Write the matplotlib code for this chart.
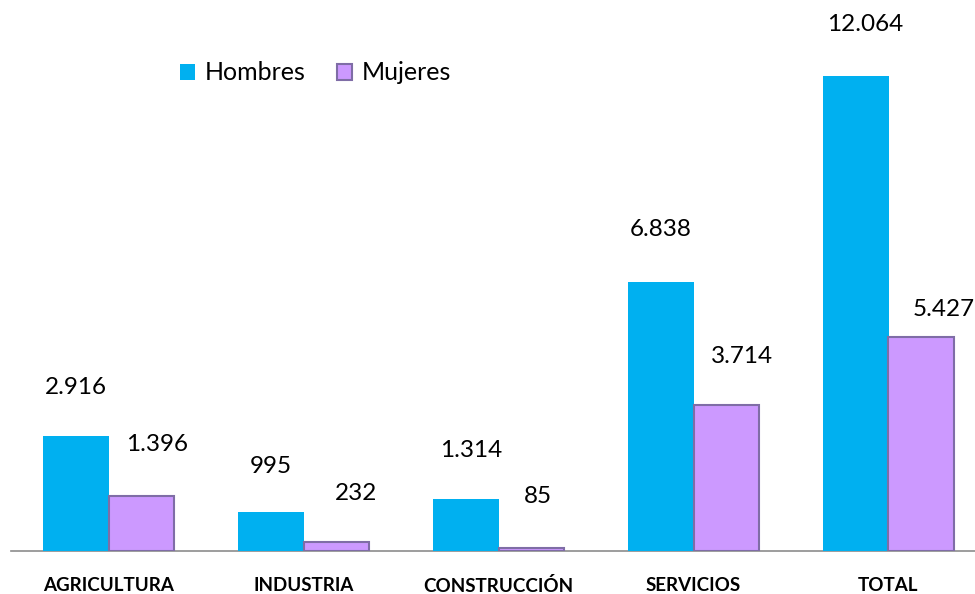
import numpy as np
import matplotlib
matplotlib.use("Agg")
import matplotlib.pyplot as plt

plt.rcParams["font.family"] = ["Lato", "DejaVu Sans"]

# Data
categorias = ["AGRICULTURA", "INDUSTRIA", "CONSTRUCCIÓN", "SERVICIOS", "TOTAL"]
hombres = [2916, 995, 1314, 6838, 12064]
mujeres = [1396, 232, 85, 3714, 5427]
etiquetas_h = ["2.916", "995", "1.314", "6.838", "12.064"]
etiquetas_m = ["1.396", "232", "85", "3.714", "5.427"]

# label offsets in points (style only)
dx_h = [0, 0, 4, 0, 7]
dy_h = [35, 33, 35, 38, 37]
dx_m = [11, 14, 5, 11, 16]
dy_m = [37, 35, 37, 35, 20]

fig = plt.figure(figsize=(9.75, 5.94), dpi=100)
ax = fig.add_axes([11 / 975, 43 / 594, 975 / 975, 551 / 594])

barWidth = 0.338
br = np.arange(len(categorias))

ax.bar(br - barWidth / 2, hombres, width=barWidth, color="#00B0F0",
       label="Hombres", zorder=3)
ax.bar(br + barWidth / 2, mujeres, width=barWidth, color="#CC99FF",
       edgecolor="#7F6DA6", linewidth=1.5, label="Mujeres", zorder=3)

for i in range(len(br)):
    ax.annotate(etiquetas_h[i], (br[i] - barWidth / 2, hombres[i]),
                xytext=(dx_h[i], dy_h[i]), textcoords="offset points",
                ha="center", va="center", fontsize=17.5, color="black")
    ax.annotate(etiquetas_m[i], (br[i] + barWidth / 2, mujeres[i]),
                xytext=(dx_m[i], dy_m[i]), textcoords="offset points",
                ha="center", va="center", fontsize=17.5, color="black")

ax.set_xlim(-0.5, 4.5)
ax.set_ylim(0, 14000)
ax.set_xticks(br)
ax.set_xticklabels(categorias, fontsize=13.5, fontweight="bold")
ax.tick_params(axis="x", length=0, pad=19)
ax.set_yticks([])
for s in ["top", "right", "left"]:
    ax.spines[s].set_visible(False)
ax.spines["bottom"].set_color("#8C8C8C")
ax.spines["bottom"].set_linewidth(1.2)

ax.legend(loc="center left", bbox_to_anchor=(180 / 975, 1 - 73 / 594),
          bbox_transform=fig.transFigure, frameon=False, ncol=2,
          fontsize=18, handlelength=0.6, handleheight=0.6,
          handletextpad=0.4, columnspacing=1.25, borderpad=0,
          borderaxespad=0)

plt.savefig("out.png", dpi=100)
